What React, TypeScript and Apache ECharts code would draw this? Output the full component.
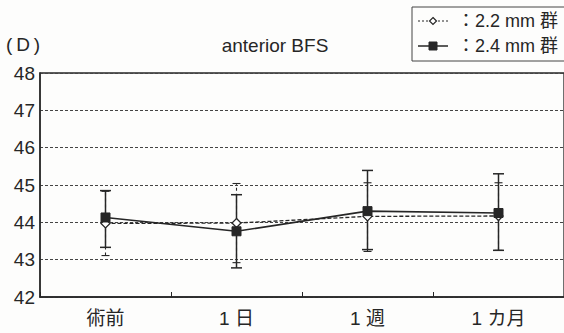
import React, { useEffect, useRef } from "react";
import * as echarts from "echarts";

// Categories (time points)
const categories = ["術前", "1 日", "1 週", "1 カ月"];

// 2.2 mm group: mean and error-bar bounds
const group22Mean = [43.97, 43.98, 44.16, 44.17];
const group22Low = [43.11, 42.92, 43.22, 43.25];
const group22High = [44.83, 45.04, 45.06, 45.06];

// 2.4 mm group: mean and error-bar bounds
const group24Mean = [44.13, 43.76, 44.3, 44.25];
const group24Low = [43.33, 42.78, 43.27, 43.25];
const group24High = [44.85, 44.74, 45.39, 45.3];

const yTicks = { min: 42, max: 48, interval: 1 };

const FONT = "'Liberation Sans', Arial, 'Noto Sans CJK JP', sans-serif";
const INK = "#262626";

function errorBarSeries(
  name: string,
  low: number[],
  high: number[],
  dashed: boolean,
  capHalf: number,
  z: number
) {
  const data = low.map((l, i) => [i, l, high[i]]);
  return {
    name,
    type: "custom",
    z,
    silent: true,
    data,
    renderItem: (_params: any, api: any) => {
      const x = api.value(0);
      const lo = api.coord([x, api.value(1)]);
      const hi = api.coord([x, api.value(2)]);
      const style = {
        stroke: INK,
        lineWidth: dashed ? 1.1 : 1.5,
        lineDash: dashed ? [3, 3] : undefined,
      };
      const capStyle = { stroke: INK, lineWidth: dashed ? 1.1 : 1.5 };
      return {
        type: "group",
        children: [
          {
            type: "line",
            shape: { x1: lo[0], y1: lo[1], x2: hi[0], y2: hi[1] },
            style,
          },
          {
            type: "line",
            shape: { x1: lo[0] - capHalf, y1: lo[1], x2: lo[0] + capHalf, y2: lo[1] },
            style: capStyle,
          },
          {
            type: "line",
            shape: { x1: hi[0] - capHalf, y1: hi[1], x2: hi[0] + capHalf, y2: hi[1] },
            style: capStyle,
          },
        ],
      };
    },
  };
}

export default function App() {
  const ref = useRef<HTMLDivElement>(null);

  useEffect(() => {
    if (!ref.current) return;
    const chart = echarts.init(ref.current, null, { renderer: "svg" });
    chart.setOption({
      animation: false,
      backgroundColor: "#fdfdfc",
      textStyle: { fontFamily: FONT, color: INK },
      grid: {
        left: 40,
        right: -3,
        top: 73,
        bottom: 36,
        show: true,
        borderColor: INK,
        borderWidth: 1.3,
      },
      xAxis: {
        type: "category",
        data: categories,
        boundaryGap: true,
        axisLine: { lineStyle: { color: INK, width: 1.5 } },
        axisTick: { show: true, inside: true, length: 5, lineStyle: { color: INK, width: 1 } },
        axisLabel: { color: INK, fontSize: 19, fontFamily: FONT, margin: 12 },
        splitLine: { show: false },
      },
      yAxis: {
        type: "value",
        min: yTicks.min,
        max: yTicks.max,
        interval: yTicks.interval,
        axisLine: { show: true, lineStyle: { color: INK, width: 1.5 } },
        axisTick: { show: false },
        axisLabel: { color: INK, fontSize: 19, fontFamily: FONT, margin: 5 },
        splitLine: { show: true, lineStyle: { color: "#444", width: 1, type: [3, 2] } },
      },
      graphic: [
        {
          type: "text",
          left: 6,
          top: 35,
          style: { text: "(\u2009D\u2009)", font: `19px ${FONT}`, fill: INK },
        },
        {
          type: "text",
          x: 275,
          y: 45,
          style: {
            text: "anterior BFS",
            font: `19px ${FONT}`,
            fill: INK,
            align: "center",
            verticalAlign: "middle",
          },
        },
        // legend box
        {
          type: "rect",
          shape: { x: 412, y: 7, width: 170, height: 54 },
          style: { fill: "none", stroke: "#444", lineWidth: 1 },
          z: 10,
        },
        {
          type: "line",
          shape: { x1: 418, y1: 21, x2: 448, y2: 21 },
          style: { stroke: INK, lineWidth: 1, lineDash: [2, 2] },
          z: 10,
        },
        {
          type: "polygon",
          shape: { points: [[433, 17.5], [436.5, 21], [433, 24.5], [429.5, 21]] },
          style: { fill: "#fff", stroke: INK, lineWidth: 1.2 },
          z: 11,
        },
        {
          type: "text",
          x: 457,
          y: 21,
          style: {
            text: "：2.2 mm 群",
            font: `18px ${FONT}`,
            fill: INK,
            verticalAlign: "middle",
          },
          z: 10,
        },
        {
          type: "line",
          shape: { x1: 418, y1: 46, x2: 448, y2: 46 },
          style: { stroke: INK, lineWidth: 1.5 },
          z: 10,
        },
        {
          type: "rect",
          shape: { x: 429, y: 42, width: 8, height: 8 },
          style: { fill: INK, stroke: INK, lineWidth: 1 },
          z: 11,
        },
        {
          type: "text",
          x: 457,
          y: 46,
          style: {
            text: "：2.4 mm 群",
            font: `18px ${FONT}`,
            fill: INK,
            verticalAlign: "middle",
          },
          z: 10,
        },
      ],
      series: [
        errorBarSeries("2.2 mm 群 SD", group22Low, group22High, true, 4, 2),
        errorBarSeries("2.4 mm 群 SD", group24Low, group24High, false, 5.5, 3),
        {
          name: "2.2 mm 群",
          type: "line",
          data: group22Mean,
          z: 4,
          symbol: "diamond",
          symbolSize: 9,
          lineStyle: { color: INK, width: 1.3, type: [4, 2] },
          itemStyle: { color: "#fff", borderColor: INK, borderWidth: 1.3 },
        },
        {
          name: "2.4 mm 群",
          type: "line",
          data: group24Mean,
          z: 5,
          symbol: "rect",
          symbolSize: 9,
          lineStyle: { color: INK, width: 1.6 },
          itemStyle: { color: INK, borderColor: INK, borderWidth: 1 },
        },
      ],
    });
    return () => chart.dispose();
  }, []);

  return (
    <div
      ref={ref}
      style={{ position: "fixed", left: 0, top: 0, width: 564, height: 333 }}
    />
  );
}
